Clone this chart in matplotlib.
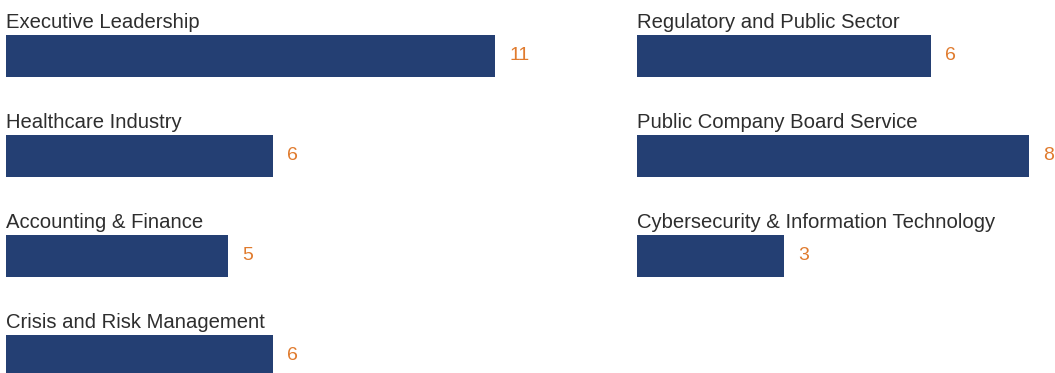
import matplotlib
matplotlib.use("Agg")
import matplotlib.pyplot as plt

plt.rcParams['font.family'] = ['Liberation Sans', 'DejaVu Sans']

left_categories = ["Executive Leadership", "Healthcare Industry",
                   "Accounting & Finance", "Crisis and Risk Management"]
left_values = [11, 6, 5, 6]

right_categories = ["Regulatory and Public Sector", "Public Company Board Service",
                    "Cybersecurity & Information Technology"]
right_values = [6, 8, 3]

BAR_COLOR = "#243f73"
VALUE_COLOR = "#e07b2e"
LABEL_COLOR = "#2e2e2e"

W, H = 1055, 373
fig = plt.figure(figsize=(W / 100, H / 100), dpi=100)
fig.patch.set_facecolor("white")

# row pitch 100 px, first bar centre at 56 px from top
row_px = 100.0
top_px = 56.0
bar_h = 0.42


def column(x0_px, width_px, px_per_unit, cats, vals):
    ax = fig.add_axes([x0_px / W, 0, width_px / W, 1])
    ax.set_xlim(0, width_px / px_per_unit)
    ax.set_ylim(H / row_px - top_px / row_px, -top_px / row_px)
    ax.axis("off")
    ys = list(range(len(cats)))
    ax.barh(ys, vals, height=bar_h, color=BAR_COLOR, align="center")
    for y, c, v in zip(ys, cats, vals):
        ax.text(0, y - bar_h / 2 - 0.065, c, ha="left", va="baseline",
                fontsize=14.6, color=LABEL_COLOR)
        ax.annotate(str(v), xy=(v, y), xytext=(10, 0), textcoords="offset points",
                    ha="left", va="center", fontsize=14, color=VALUE_COLOR)
    return ax


column(6, 600, 44.5, left_categories, left_values)
column(637, 418, 49.0, right_categories, right_values)

fig.savefig("out.png", dpi=100, facecolor="white")
